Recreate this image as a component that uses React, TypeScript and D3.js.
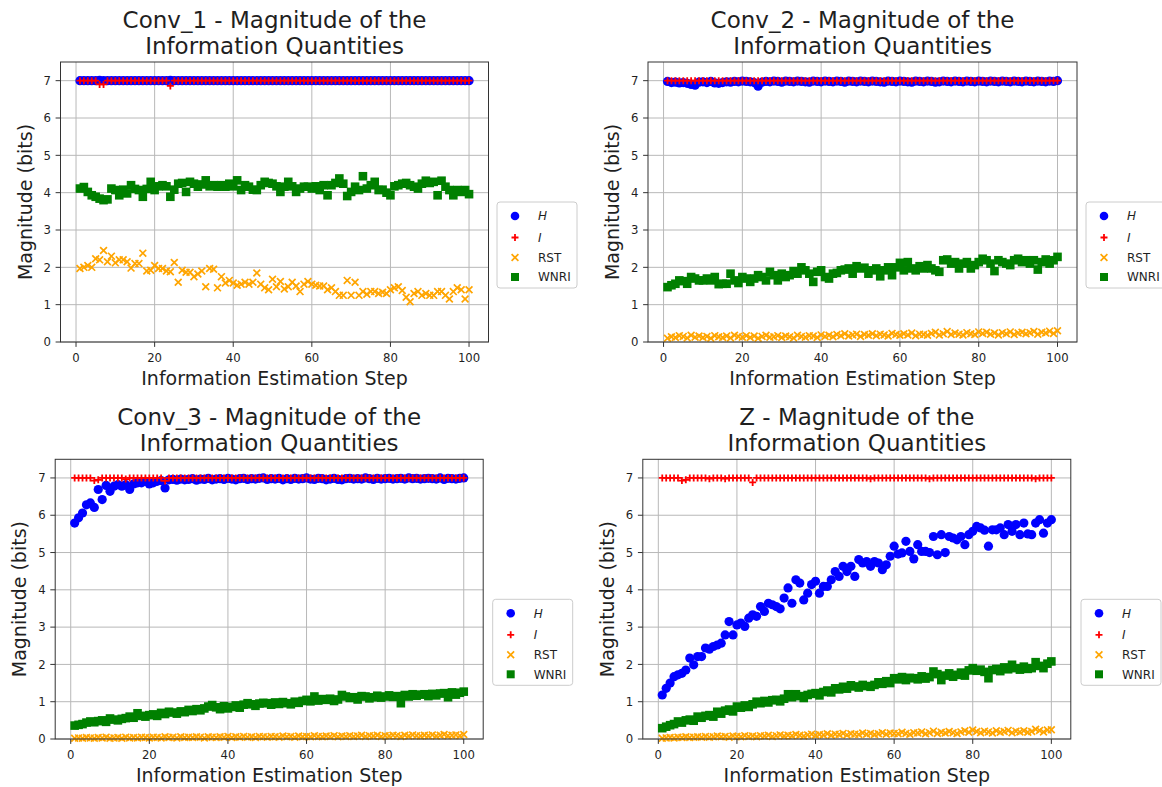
import React from "react";
import * as d3 from "d3";

// Information-estimation step index (x values)
const steps: number[] = d3.range(1, 101);

const xTicks = [0, 20, 40, 60, 80, 100];
const yTicks = [0, 1, 2, 3, 4, 5, 6, 7];
const seriesNames = ["H", "I", "RST", "WNRI"];

// ---- Conv_1 ----
const conv1H = [
  7.00, 7.00, 7.00, 7.00, 7.00, 7.01, 7.00, 7.00, 7.00, 7.00,
  7.00, 7.00, 7.00, 7.00, 7.00, 7.00, 7.00, 7.00, 7.00, 7.00,
  7.00, 7.00, 7.00, 7.01, 7.00, 7.00, 7.00, 7.00, 7.00, 7.00,
  7.00, 7.00, 7.00, 7.00, 7.00, 7.00, 7.00, 7.00, 7.00, 7.00,
  7.00, 7.00, 7.00, 7.00, 7.00, 7.00, 7.00, 7.00, 7.00, 7.00,
  7.00, 7.00, 7.00, 7.00, 7.00, 7.00, 7.00, 7.00, 7.00, 7.00,
  7.00, 7.00, 7.00, 7.00, 7.00, 7.00, 7.00, 7.00, 7.00, 7.00,
  7.00, 7.00, 7.00, 7.00, 7.00, 7.00, 7.00, 7.00, 7.00, 7.00,
  7.00, 7.00, 7.00, 7.00, 7.00, 7.00, 7.00, 7.00, 7.00, 7.00,
  7.00, 7.00, 7.00, 7.00, 7.00, 7.00, 7.00, 7.00, 7.00, 7.00,
];
const conv1I = [
  7.00, 7.00, 7.00, 7.00, 7.00, 6.90, 6.90, 7.00, 7.00, 7.00,
  7.00, 7.00, 7.00, 7.00, 7.00, 7.00, 7.00, 7.00, 7.00, 7.00,
  7.00, 7.00, 7.00, 6.86, 7.00, 7.00, 7.00, 7.00, 7.00, 7.00,
  7.00, 7.00, 7.00, 7.00, 7.00, 7.00, 7.00, 7.00, 7.00, 7.00,
  7.00, 7.00, 7.00, 7.00, 7.00, 7.00, 7.00, 7.00, 7.00, 7.00,
  7.00, 7.00, 7.00, 7.00, 7.00, 7.00, 7.00, 7.00, 7.00, 7.00,
  7.00, 7.00, 7.00, 7.00, 7.00, 7.00, 7.00, 7.00, 7.00, 7.00,
  7.00, 7.00, 7.00, 7.00, 7.00, 7.00, 7.00, 7.00, 7.00, 7.00,
  7.00, 7.00, 7.00, 7.00, 7.00, 7.00, 7.00, 7.00, 7.00, 7.00,
  7.00, 7.00, 7.00, 7.00, 7.00, 7.00, 7.00, 7.00, 7.00, 7.00,
];
const conv1RST = [
  1.97, 2.00, 2.05, 2.00, 2.23, 2.20, 2.45, 2.15, 2.30, 2.12,
  2.20, 2.20, 2.15, 1.98, 2.10, 2.10, 2.38, 1.90, 1.92, 2.05,
  1.97, 1.97, 1.90, 1.88, 2.13, 1.60, 1.92, 1.87, 1.87, 1.75,
  1.82, 1.90, 1.48, 1.97, 1.95, 1.45, 1.75, 1.58, 1.65, 1.58,
  1.52, 1.55, 1.60, 1.55, 1.60, 1.85, 1.55, 1.45, 1.40, 1.68,
  1.48, 1.62, 1.42, 1.48, 1.60, 1.50, 1.35, 1.55, 1.62, 1.55,
  1.52, 1.50, 1.50, 1.40, 1.45, 1.35, 1.25, 1.25, 1.65, 1.25,
  1.60, 1.25, 1.35, 1.28, 1.35, 1.35, 1.30, 1.33, 1.30, 1.40,
  1.45, 1.48, 1.38, 1.20, 1.08, 1.30, 1.35, 1.25, 1.30, 1.25,
  1.25, 1.35, 1.35, 1.25, 1.15, 1.35, 1.45, 1.40, 1.15, 1.40,
];
const conv1WNRI = [
  4.11, 4.15, 4.02, 3.93, 3.89, 3.84, 3.80, 3.82, 4.11, 4.07,
  3.93, 4.08, 3.98, 4.20, 4.10, 4.07, 3.89, 4.10, 4.29, 4.07,
  4.17, 4.20, 4.17, 3.89, 4.08, 4.24, 4.26, 4.02, 4.29, 4.24,
  4.16, 4.22, 4.33, 4.17, 4.20, 4.16, 4.20, 4.16, 4.24, 4.17,
  4.33, 4.07, 4.20, 4.16, 4.08, 4.07, 4.20, 4.29, 4.26, 4.24,
  4.17, 4.02, 4.16, 4.29, 4.17, 4.02, 4.11, 4.16, 4.16, 4.11,
  4.17, 4.07, 4.20, 3.93, 4.20, 4.26, 4.38, 4.24, 3.91, 4.02,
  4.16, 4.07, 4.44, 4.11, 4.20, 4.29, 4.07, 4.08, 4.00, 3.93,
  4.17, 4.20, 4.24, 4.26, 4.20, 4.16, 4.11, 4.24, 4.32, 4.26,
  4.29, 3.93, 4.32, 4.16, 4.07, 3.93, 4.07, 4.02, 4.07, 3.96,
];

// ---- Conv_2 ----
const conv2H = [
  6.98, 6.95, 6.96, 6.94, 6.95, 6.93, 6.90, 6.88, 6.96, 6.97,
  6.95, 6.98, 6.94, 6.93, 6.95, 6.97, 6.96, 6.98, 6.97, 6.99,
  6.98, 6.97, 6.95, 6.85, 6.96, 6.98, 6.97, 6.99, 6.98, 6.96,
  6.99, 6.98, 6.97, 6.99, 6.98, 6.97, 6.96, 6.99, 6.98, 6.97,
  6.99, 6.98, 6.97, 6.99, 6.98, 6.96, 6.99, 6.98, 6.97, 6.99,
  6.98, 6.97, 6.99, 6.98, 6.97, 6.96, 6.99, 6.98, 6.97, 6.99,
  6.98, 6.97, 6.96, 6.99, 6.98, 6.97, 6.99, 6.98, 6.96, 6.97,
  6.99, 6.98, 6.97, 6.99, 6.98, 6.97, 6.99, 6.98, 6.97, 6.99,
  6.98, 6.97, 6.99, 6.98, 6.97, 6.99, 6.98, 6.97, 6.99, 6.98,
  6.97, 6.99, 6.98, 6.97, 6.99, 6.98, 6.97, 6.99, 6.98, 7.00,
];
const conv2I = [
  7.00, 7.00, 7.00, 7.00, 7.00, 7.00, 7.00, 7.00, 7.00, 7.00,
  7.00, 7.00, 7.00, 7.00, 7.00, 7.00, 7.00, 7.00, 7.00, 7.00,
  7.00, 7.00, 7.00, 7.00, 7.00, 7.00, 7.00, 7.00, 7.00, 7.00,
  7.00, 7.00, 7.00, 7.00, 7.00, 7.00, 7.00, 7.00, 7.00, 7.00,
  7.00, 7.00, 7.00, 7.00, 7.00, 7.00, 7.00, 7.00, 7.00, 7.00,
  7.00, 7.00, 7.00, 7.00, 7.00, 7.00, 7.00, 7.00, 7.00, 7.00,
  7.00, 7.00, 7.00, 7.00, 7.00, 7.00, 7.00, 7.00, 7.00, 7.00,
  7.00, 7.00, 7.00, 7.00, 7.00, 7.00, 7.00, 7.00, 7.00, 7.00,
  7.00, 7.00, 7.00, 7.00, 7.00, 7.00, 7.00, 7.00, 7.00, 7.00,
  7.00, 7.00, 7.00, 7.00, 7.00, 7.00, 7.00, 7.00, 7.00, 7.00,
];
const conv2RST = [
  0.10, 0.14, 0.12, 0.17, 0.15, 0.11, 0.18, 0.13, 0.16, 0.12,
  0.15, 0.10, 0.17, 0.14, 0.12, 0.16, 0.11, 0.18, 0.15, 0.13,
  0.17, 0.12, 0.16, 0.10, 0.15, 0.18, 0.13, 0.14, 0.17, 0.12,
  0.16, 0.14, 0.11, 0.18, 0.15, 0.13, 0.17, 0.16, 0.12, 0.19,
  0.15, 0.18, 0.14, 0.20, 0.17, 0.22, 0.16, 0.19, 0.21, 0.15,
  0.20, 0.18, 0.22, 0.17, 0.21, 0.19, 0.16, 0.23, 0.20, 0.18,
  0.22, 0.19, 0.24, 0.17, 0.21, 0.20, 0.18, 0.23, 0.26, 0.19,
  0.22, 0.28, 0.20, 0.24, 0.21, 0.19, 0.25, 0.22, 0.20, 0.27,
  0.23, 0.26, 0.21, 0.24, 0.19, 0.25, 0.22, 0.27, 0.20, 0.24,
  0.26, 0.22, 0.25, 0.28, 0.21, 0.26, 0.24, 0.29, 0.23, 0.30,
];
const conv2WNRI = [
  1.47, 1.52, 1.56, 1.65, 1.63, 1.56, 1.74, 1.70, 1.65, 1.65,
  1.70, 1.65, 1.74, 1.55, 1.56, 1.56, 1.83, 1.65, 1.58, 1.74,
  1.70, 1.61, 1.70, 1.79, 1.74, 1.65, 1.88, 1.79, 1.65, 1.83,
  1.74, 1.79, 1.90, 1.83, 2.00, 1.92, 1.83, 1.61, 1.88, 1.92,
  1.74, 1.70, 1.83, 1.85, 1.92, 1.94, 1.97, 1.83, 2.03, 1.97,
  1.99, 1.83, 1.92, 1.97, 1.76, 1.92, 2.00, 1.79, 2.00, 2.12,
  1.92, 2.14, 1.97, 1.92, 2.03, 1.97, 2.06, 1.97, 1.92, 1.88,
  2.19, 2.21, 2.10, 2.14, 1.97, 2.10, 2.14, 1.97, 2.06, 2.14,
  2.23, 2.19, 2.10, 1.90, 2.19, 2.14, 2.10, 2.06, 2.19, 2.23,
  2.14, 2.19, 2.10, 2.19, 1.94, 2.14, 2.21, 2.10, 2.19, 2.28,
];

// ---- Conv_3 ----
const conv3H = [
  5.79, 5.93, 6.06, 6.28, 6.33, 6.21, 6.69, 6.42, 6.80, 6.64,
  6.78, 6.82, 6.78, 6.82, 6.69, 6.84, 6.87, 6.87, 6.91, 6.84,
  6.87, 6.91, 6.93, 6.73, 6.95, 6.96, 6.94, 6.97, 6.95, 6.96,
  6.98, 6.94, 6.97, 6.96, 6.99, 6.95, 6.97, 6.98, 6.96, 6.99,
  6.97, 6.95, 6.98, 6.99, 6.96, 6.98, 6.97, 6.99, 7.00, 6.96,
  6.98, 6.97, 6.99, 6.95, 6.98, 6.96, 6.99, 6.97, 6.98, 7.00,
  6.97, 6.96, 6.99, 6.98, 6.95, 6.97, 6.99, 6.96, 6.95, 6.98,
  6.99, 6.97, 6.98, 6.97, 7.00, 6.98, 6.96, 6.99, 6.97, 6.98,
  6.99, 6.97, 6.98, 6.99, 6.97, 7.00, 6.98, 6.99, 6.97, 6.98,
  6.99, 6.98, 6.97, 7.00, 6.96, 6.99, 6.98, 6.97, 6.99, 7.00,
];
const conv3I = [
  7.00, 7.00, 7.00, 7.00, 7.00, 6.93, 6.95, 7.00, 7.00, 7.00,
  7.00, 7.00, 7.00, 6.97, 7.00, 7.00, 7.00, 7.00, 7.00, 7.00,
  7.00, 7.00, 7.00, 6.92, 7.00, 7.00, 7.00, 7.00, 7.00, 7.00,
  7.00, 7.00, 7.00, 7.00, 7.00, 7.00, 7.00, 7.00, 7.00, 7.00,
  7.00, 7.00, 7.00, 7.00, 7.00, 7.00, 7.00, 7.00, 7.00, 7.00,
  7.00, 7.00, 7.00, 7.00, 7.00, 7.00, 7.00, 7.00, 7.00, 7.00,
  7.00, 7.00, 7.00, 7.00, 7.00, 7.00, 7.00, 7.00, 7.00, 7.00,
  7.00, 7.00, 7.00, 7.00, 7.00, 7.00, 7.00, 7.00, 7.00, 7.00,
  7.00, 7.00, 7.00, 7.00, 7.00, 7.00, 7.00, 7.00, 7.00, 7.00,
  7.00, 7.00, 7.00, 7.00, 7.00, 7.00, 7.00, 7.00, 7.00, 7.00,
];
const conv3RST = [
  0.02, 0.03, 0.02, 0.04, 0.03, 0.02, 0.04, 0.03, 0.05, 0.02,
  0.03, 0.04, 0.02, 0.05, 0.03, 0.04, 0.03, 0.05, 0.04, 0.03,
  0.05, 0.04, 0.03, 0.06, 0.04, 0.05, 0.03, 0.06, 0.04, 0.05,
  0.04, 0.06, 0.05, 0.03, 0.06, 0.05, 0.04, 0.06, 0.05, 0.07,
  0.04, 0.06, 0.05, 0.07, 0.05, 0.06, 0.04, 0.07, 0.06, 0.05,
  0.07, 0.06, 0.05, 0.08, 0.06, 0.07, 0.05, 0.08, 0.06, 0.07,
  0.06, 0.09, 0.07, 0.06, 0.08, 0.07, 0.09, 0.06, 0.08, 0.07,
  0.09, 0.07, 0.08, 0.10, 0.07, 0.09, 0.08, 0.10, 0.07, 0.09,
  0.08, 0.10, 0.09, 0.07, 0.10, 0.08, 0.11, 0.09, 0.08, 0.10,
  0.09, 0.11, 0.08, 0.10, 0.12, 0.09, 0.10, 0.11, 0.09, 0.12,
];
const conv3WNRI = [
  0.36, 0.38, 0.40, 0.44, 0.47, 0.45, 0.48, 0.50, 0.46, 0.55,
  0.52, 0.50, 0.54, 0.56, 0.60, 0.57, 0.69, 0.62, 0.60, 0.64,
  0.66, 0.62, 0.70, 0.67, 0.73, 0.71, 0.68, 0.74, 0.72, 0.78,
  0.75, 0.80, 0.77, 0.82, 0.87, 0.91, 0.85, 0.80, 0.88, 0.82,
  0.86, 0.90, 0.84, 0.92, 0.96, 0.93, 0.89, 0.95, 0.97, 0.96,
  0.92, 0.98, 0.94, 0.99, 0.96, 0.93, 1.00, 0.97, 1.02, 1.05,
  1.01, 1.14, 1.03, 1.07, 1.05, 1.08, 1.02, 1.06, 1.18, 1.14,
  1.10, 1.12, 1.06, 1.15, 1.14, 1.09, 1.12, 1.16, 1.11, 1.14,
  1.17, 1.13, 1.15, 0.96, 1.18, 1.14, 1.20, 1.16, 1.19, 1.20,
  1.15, 1.21, 1.17, 1.22, 1.23, 1.12, 1.25, 1.19, 1.24, 1.27,
];

// ---- Z ----
const zH = [
  1.18, 1.36, 1.50, 1.67, 1.72, 1.76, 1.85, 2.17, 1.99, 2.21,
  2.21, 2.44, 2.41, 2.48, 2.52, 2.57, 2.79, 3.15, 2.79, 3.06,
  3.11, 3.02, 3.24, 3.33, 3.29, 3.55, 3.42, 3.64, 3.60, 3.55,
  3.49, 3.78, 4.05, 3.64, 4.27, 4.18, 3.73, 3.91, 4.14, 4.23,
  3.91, 4.09, 4.09, 4.27, 4.49, 4.36, 4.63, 4.49, 4.63, 4.36,
  4.81, 4.72, 4.76, 4.63, 4.76, 4.72, 4.54, 4.67, 4.90, 5.17,
  4.96, 4.99, 5.30, 5.03, 4.83, 5.21, 5.03, 5.03, 5.00, 5.43,
  4.94, 5.48, 5.00, 5.43, 5.39, 5.34, 5.43, 5.21, 5.48, 5.57,
  5.70, 5.66, 5.60, 5.17, 5.61, 5.61, 5.66, 5.48, 5.75, 5.57,
  5.75, 5.48, 5.79, 5.50, 5.48, 5.79, 5.88, 5.52, 5.79, 5.88,
];
const zI = [
  7.00, 7.00, 7.00, 7.00, 7.00, 6.93, 6.95, 7.00, 7.00, 7.00,
  7.00, 7.00, 6.98, 7.00, 7.00, 7.00, 6.98, 7.00, 7.00, 7.00,
  7.00, 7.00, 7.00, 6.88, 7.00, 7.00, 7.00, 7.00, 7.00, 7.00,
  7.00, 7.00, 7.00, 7.00, 7.00, 7.00, 7.00, 7.00, 7.00, 7.00,
  7.00, 7.00, 7.00, 7.00, 7.00, 7.00, 7.00, 7.00, 7.00, 7.00,
  7.00, 7.00, 7.00, 6.98, 7.00, 7.00, 7.00, 7.00, 7.00, 7.00,
  7.00, 7.00, 7.00, 7.00, 7.00, 7.00, 7.00, 7.00, 6.98, 7.00,
  7.00, 7.00, 7.00, 7.00, 7.00, 7.00, 7.00, 7.00, 7.00, 7.00,
  7.00, 7.00, 7.00, 7.00, 7.00, 7.00, 7.00, 7.00, 7.00, 7.00,
  7.00, 7.00, 7.00, 7.00, 7.00, 6.98, 7.00, 7.00, 7.00, 7.00,
];
const zRST = [
  0.02, 0.03, 0.04, 0.03, 0.05, 0.04, 0.06, 0.04, 0.05, 0.06,
  0.05, 0.07, 0.05, 0.06, 0.08, 0.06, 0.07, 0.05, 0.08, 0.07,
  0.06, 0.09, 0.07, 0.08, 0.06, 0.09, 0.08, 0.10, 0.07, 0.09,
  0.11, 0.08, 0.10, 0.09, 0.12, 0.10, 0.08, 0.11, 0.13, 0.10,
  0.12, 0.11, 0.14, 0.10, 0.13, 0.12, 0.15, 0.11, 0.14, 0.13,
  0.12, 0.16, 0.13, 0.15, 0.12, 0.14, 0.17, 0.13, 0.16, 0.15,
  0.14, 0.18, 0.15, 0.13, 0.17, 0.16, 0.19, 0.14, 0.17, 0.21,
  0.15, 0.18, 0.16, 0.20, 0.17, 0.15, 0.19, 0.22, 0.18, 0.24,
  0.20, 0.17, 0.21, 0.19, 0.16, 0.22, 0.18, 0.20, 0.23, 0.17,
  0.21, 0.19, 0.22, 0.18, 0.20, 0.26, 0.23, 0.19, 0.24, 0.25,
];
const zWNRI = [
  0.29, 0.33, 0.37, 0.40, 0.47, 0.44, 0.50, 0.52, 0.49, 0.60,
  0.57, 0.62, 0.64, 0.60, 0.73, 0.68, 0.76, 0.79, 0.74, 0.87,
  0.84, 0.90, 0.86, 0.93, 1.00, 0.96, 1.02, 0.98, 1.04, 1.05,
  1.01, 1.08, 1.20, 1.12, 1.20, 1.15, 1.10, 1.18, 1.21, 1.23,
  1.17, 1.26, 1.30, 1.25, 1.36, 1.33, 1.40, 1.35, 1.44, 1.41,
  1.38, 1.45, 1.42, 1.40, 1.45, 1.52, 1.48, 1.55, 1.50, 1.63,
  1.60, 1.66, 1.58, 1.64, 1.63, 1.60, 1.68, 1.62, 1.66, 1.81,
  1.74, 1.58, 1.70, 1.76, 1.67, 1.72, 1.78, 1.70, 1.84, 1.90,
  1.83, 1.86, 1.80, 1.63, 1.85, 1.88, 1.82, 1.92, 1.87, 1.99,
  1.90, 1.86, 1.94, 1.88, 1.90, 2.06, 1.96, 1.90, 2.02, 2.08,
];

const FONT = "'DejaVu Sans', sans-serif";
const TEXT = "#1f1f1f";
const COLORS: Record<string, string> = {
  H: "#0000ff",
  I: "#ff0000",
  RST: "#ffa500",
  WNRI: "#008000",
};

type Panel = {
  title: [string, string];
  series: Record<string, number[]>;
  box: { left: number; top: number; width: number; height: number };
  legend: { left: number; top: number };
};

const panels: Panel[] = [
  {
    title: ["Conv_1 - Magnitude of the", "Information Quantities"],
    series: { H: conv1H, I: conv1I, RST: conv1RST, WNRI: conv1WNRI },
    box: { left: 60.5, top: 62, width: 428, height: 280 },
    legend: { left: 497, top: 202 },
  },
  {
    title: ["Conv_2 - Magnitude of the", "Information Quantities"],
    series: { H: conv2H, I: conv2I, RST: conv2RST, WNRI: conv2WNRI },
    box: { left: 648, top: 62, width: 429, height: 280 },
    legend: { left: 1086, top: 202 },
  },
  {
    title: ["Conv_3 - Magnitude of the", "Information Quantities"],
    series: { H: conv3H, I: conv3I, RST: conv3RST, WNRI: conv3WNRI },
    box: { left: 55.2, top: 459.3, width: 428, height: 279.7 },
    legend: { left: 492.7, top: 599.3 },
  },
  {
    title: ["Z - Magnitude of the", "Information Quantities"],
    series: { H: zH, I: zI, RST: zRST, WNRI: zWNRI },
    box: { left: 642.8, top: 459.3, width: 428, height: 279.7 },
    legend: { left: 1081, top: 599.3 },
  },
];

function Marker({ kind, x, y, legend = false }: { kind: string; x: number; y: number; legend?: boolean }) {
  const c = COLORS[kind];
  if (kind === "H") return <circle cx={x} cy={y} r={legend ? 4.3 : 4.6} fill={c} />;
  if (kind === "I") {
    const s = 3.5;
    return (
      <path d={`M${x - s},${y}L${x + s},${y}M${x},${y - s}L${x},${y + s}`} stroke={c} strokeWidth={1.8} fill="none" />
    );
  }
  if (kind === "RST") {
    const s = 3.4;
    return (
      <path
        d={`M${x - s},${y - s}L${x + s},${y + s}M${x - s},${y + s}L${x + s},${y - s}`}
        stroke={c}
        strokeWidth={1.7}
        fill="none"
      />
    );
  }
  const s = legend ? 4 : 4.3;
  return <rect x={x - s} y={y - s} width={2 * s} height={2 * s} fill={c} />;
}

function ChartPanel({ p }: { p: Panel }) {
  const { left, top, width, height } = p.box;
  const bottom = top + height;
  const right = left + width;
  const x = d3.scaleLinear().domain([-3.95, 104.95]).range([left, right]);
  const y = d3.scaleLinear().domain([0, 7.5]).range([bottom, top]);
  const cx = left + width / 2;
  const cy = top + height / 2;
  const rowOffsets = [14, 35.5, 55.5, 75];

  return (
    <g fontFamily={FONT}>
      {/* grid */}
      {xTicks.map((t) => (
        <line key={`gx${t}`} x1={x(t)} x2={x(t)} y1={top} y2={bottom} stroke="#b8b8b8" strokeWidth={1} />
      ))}
      {yTicks.map((t) => (
        <line key={`gy${t}`} x1={left} x2={right} y1={y(t)} y2={y(t)} stroke="#b8b8b8" strokeWidth={1} />
      ))}

      {/* data */}
      <defs>
        <clipPath id={`clip-${p.title[0].slice(0, 6)}`}>
          <rect x={left} y={top - 10} width={width} height={height + 10} />
        </clipPath>
      </defs>
      <g>
        {seriesNames.map((name) => (
          <g key={name}>
            {p.series[name].map((v, i) => (
              <Marker key={i} kind={name} x={x(steps[i])} y={y(v)} />
            ))}
          </g>
        ))}
      </g>

      {/* frame */}
      <rect x={left} y={top} width={width} height={height} fill="none" stroke="#333" strokeWidth={1} />

      {/* x ticks */}
      {xTicks.map((t) => (
        <g key={`xt${t}`}>
          <line x1={x(t)} x2={x(t)} y1={bottom} y2={bottom + 4.9} stroke="#333" strokeWidth={1} />
          <text x={x(t)} y={bottom + 20} textAnchor="middle" fontSize={11.7} fill={TEXT}>
            {t}
          </text>
        </g>
      ))}
      {/* y ticks */}
      {yTicks.map((t) => (
        <g key={`yt${t}`}>
          <line x1={left - 4.9} x2={left} y1={y(t)} y2={y(t)} stroke="#333" strokeWidth={1} />
          <text x={left - 9.5} y={y(t) + 4.2} textAnchor="end" fontSize={11.7} fill={TEXT}>
            {t}
          </text>
        </g>
      ))}

      {/* labels */}
      <text x={cx} y={bottom + 42.5} textAnchor="middle" fontSize={19} fill={TEXT}>
        Information Estimation Step
      </text>
      <text
        transform={`translate(${left - 29},${cy}) rotate(-90)`}
        textAnchor="middle"
        fontSize={19}
        fill={TEXT}
      >
        Magnitude (bits)
      </text>
      <text x={cx} y={top - 34} textAnchor="middle" fontSize={23} fill={TEXT}>
        {p.title[0]}
      </text>
      <text x={cx} y={top - 8.5} textAnchor="middle" fontSize={23} fill={TEXT}>
        {p.title[1]}
      </text>

      {/* legend */}
      <g>
        <rect
          x={p.legend.left}
          y={p.legend.top}
          width={80}
          height={86}
          rx={3}
          fill="#ffffff"
          fillOpacity={0.8}
          stroke="#cccccc"
          strokeWidth={1}
        />
        {seriesNames.map((name, i) => {
          const ry = p.legend.top + rowOffsets[i];
          const italic = name === "H" || name === "I";
          return (
            <g key={`lg${name}`}>
              <Marker kind={name} x={p.legend.left + 18} y={ry} legend />
              <text
                x={p.legend.left + 41}
                y={ry + 4.3}
                fontSize={12}
                fontStyle={italic ? "italic" : "normal"}
                fill={TEXT}
              >
                {name}
              </text>
            </g>
          );
        })}
      </g>
    </g>
  );
}

export default function App() {
  return (
    <svg
      width={1162}
      height={787}
      viewBox="0 0 1162 787"
      style={{ position: "absolute", left: 0, top: 0, background: "#ffffff" }}
    >
      <rect x={0} y={0} width={1162} height={787} fill="#ffffff" />
      {panels.map((p) => (
        <ChartPanel key={p.title[0]} p={p} />
      ))}
    </svg>
  );
}
